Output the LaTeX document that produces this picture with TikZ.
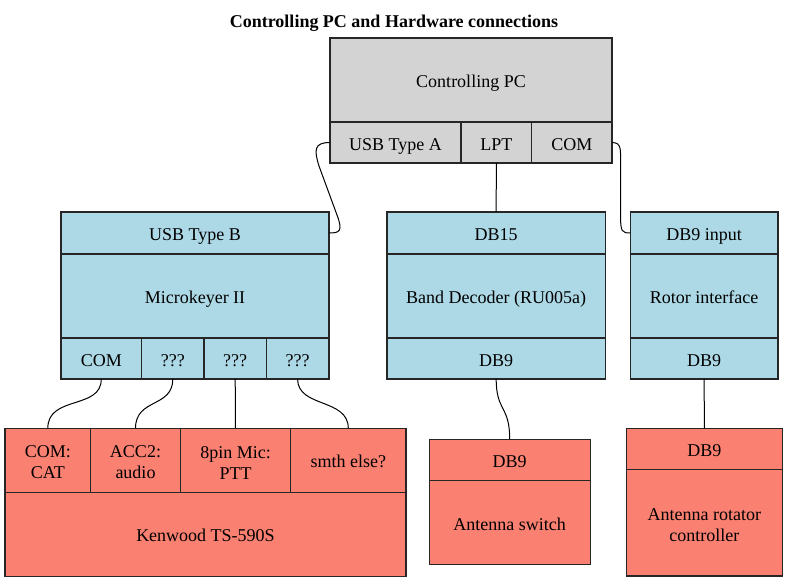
\documentclass[tikz,border=0pt]{standalone}
\usepackage{fontspec}
\setmainfont{Liberation Serif}
\usepackage{xcolor}
\usepackage{tikz}
\definecolor{pcgray}{HTML}{D3D3D3}
\definecolor{boxblue}{HTML}{ADD8E6}
\definecolor{boxsalmon}{HTML}{FA8072}

\begin{document}
\begin{tikzpicture}[x=1pt, y=-1pt,
        every node/.style={font=\fontsize{18}{21}\selectfont},
        oneline/.style={text height=15.5pt, text depth=0.5pt},
        cell/.style={draw=black!85, line width=1.1pt, inner sep=0pt, outer sep=0pt, align=center},
        pccell/.style={cell, oneline, fill=pcgray},
        bluecell/.style={cell, oneline, fill=boxblue},
        redcell/.style={cell, oneline, fill=boxsalmon},
        redpair/.style={cell, fill=boxsalmon},
        wire/.style={draw=black, line width=1pt}]
                \useasboundingbox (0,0) rectangle (788,582);
                \node [oneline, font=\fontsize{18}{21}\selectfont\bfseries] (title) at (394,20) {Controlling PC and Hardware connections};
                \node [pccell, minimum width=282, minimum height=84] (pc) at (471,80) {Controlling PC};
                \node [pccell, minimum width=131, minimum height=41] (usba) at (395.5,142.5) {USB Type A};
                \node [pccell, minimum width=70.7, minimum height=41] (lpt) at (496.3,142.5) {LPT};
                \node [pccell, minimum width=80.3, minimum height=41] (pccom) at (571.8,142.5) {COM};
                \node [bluecell, minimum width=268, minimum height=42] (usbb) at (195,233) {USB Type B};
                \node [bluecell, minimum width=268, minimum height=84] (mk) at (195,296) {Microkeyer II};
                \node [bluecell, minimum width=80.7, minimum height=41] (mkcom) at (101.3,358.5) {COM};
                \node [bluecell, minimum width=62.3, minimum height=41] (mkqa) at (172.8,358.5) {???};
                \node [bluecell, minimum width=62.3, minimum height=41] (mkqb) at (235.2,358.5) {???};
                \node [bluecell, minimum width=62.7, minimum height=41] (mkqc) at (297.6,358.5) {???};
                \node [bluecell, minimum width=218.5, minimum height=42] (db15) at (496.2,233) {DB15};
                \node [bluecell, minimum width=218.5, minimum height=84] (bd) at (496.2,296) {Band Decoder (RU005a)};
                \node [bluecell, minimum width=218.5, minimum height=41] (bddb9) at (496.2,358.5) {DB9};
                \node [bluecell, minimum width=147.5, minimum height=42] (db9in) at (704.2,233) {DB9 input};
                \node [bluecell, minimum width=147.5, minimum height=84] (rot) at (704.2,296) {Rotor interface};
                \node [bluecell, minimum width=147.5, minimum height=41] (rotdb9) at (704.2,358.5) {DB9};
                \node [redpair, minimum width=85.7, minimum height=64] (kcat) at (47.8,460.3) {\rule{0pt}{16.5pt}COM:\\CAT};
                \node [redpair, minimum width=89.6, minimum height=64] (kacc) at (135.5,460.3) {\rule{0pt}{16.5pt}ACC2:\\audio};
                \node [redpair, minimum width=110.4, minimum height=64] (kmic) at (235.5,460.3) {\rule{0pt}{16.5pt}8pin Mic:\\PTT};
                \node [redcell, minimum width=115.3, minimum height=64] (ksmth) at (348.3,460.3) {smth else?};
                \node [redcell, minimum width=401, minimum height=83.7] (kw) at (205.5,534.2) {Kenwood TS-590S};
                \node [redcell, minimum width=160.7, minimum height=41.4] (swdb9) at (509.7,460) {DB9};
                \node [redcell, minimum width=160.7, minimum height=84] (sw) at (509.7,522.7) {Antenna switch};
                \node [redcell, minimum width=156, minimum height=41] (rcdb9) at (704.3,449.2) {DB9};
                \node [redpair, minimum width=156, minimum height=106.3] (rc) at (704.3,522.8) {\rule{0pt}{16.5pt}Antenna rotator\\controller};
                \draw [wire] (usba.west) .. controls (314,142.5) and (314,150) .. (319,166) -- (337,215) .. controls (343,231) and (340,233) .. (usbb.east);
                \draw [wire] (lpt.south) -- (db15.north);
                \draw [wire] (pccom.east) .. controls (622,142.5) and (620.5,150) .. (620.5,165) -- (620.5,215) .. controls (620.5,232) and (622,233) .. (db9in.west);
                \draw [wire] (mkcom.south) .. controls (101.3,410) and (47.8,395) .. (kcat.north);
                \draw [wire] (mkqa.south) .. controls (172.8,408) and (135.5,398) .. (kacc.north);
                \draw [wire] (mkqb.south) -- (kmic.north);
                \draw [wire] (mkqc.south) .. controls (297.6,408) and (348.3,398) .. (ksmth.north);
                \draw [wire] (bddb9.south) .. controls (496.2,412) and (509.7,405) .. (swdb9.north);
                \draw [wire] (rotdb9.south) -- (rcdb9.north);
            \end{tikzpicture}
\end{document}
